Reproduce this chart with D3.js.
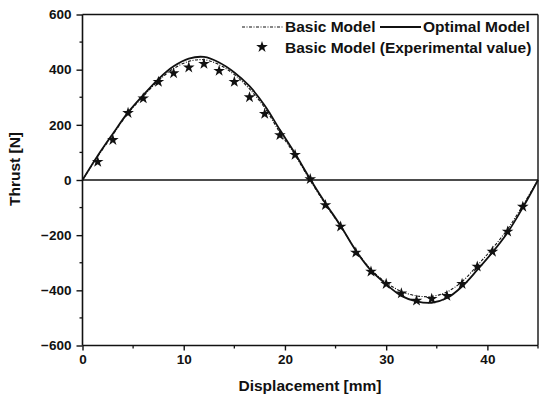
<!DOCTYPE html>
<html>
<head>
<meta charset="utf-8"/>
<script src="https://d3js.org/d3.v7.min.js"></script>
<title>Thrust vs Displacement</title>
<style type="text/css">
  body { margin: 0; background-color: white; }
  text { font-family: "Liberation Sans", Arial, sans-serif; font-weight: bold; fill: #111; }
</style>
</head>
<body>
<div id="chart"></div>
<script type="text/javascript">

// displacement [mm] sample points for the two model curves
var disp = [0, 1.5, 3, 4.5, 6, 7.5, 9, 10.5, 12, 13.5, 15, 16.5, 18, 19.5, 21, 22.5,
            24, 25.5, 27, 28.5, 30, 31.5, 33, 34.5, 36, 37.5, 39, 40.5, 42, 43.5, 45];
var basicModel = [0, 85, 164, 242, 303, 360, 404, 430, 436, 418, 382, 330, 262, 172, 90, -2,
                  -88, -168, -254, -324, -372, -404, -420, -422, -406, -368, -310, -248, -178, -92, 0];
var optimalModel = [0, 88, 168, 245, 308, 366, 412, 440, 446, 426, 390, 340, 270, 182, 96, 3,
                    -84, -166, -256, -328, -378, -420, -440, -445, -428, -386, -326, -262, -190, -100, 0];

// experimental values (stars)
var expDisp = [1.5, 3, 4.5, 6, 7.5, 9, 10.5, 12, 13.5, 15, 16.5, 18, 19.5, 21, 22.5,
               24, 25.5, 27, 28.5, 30, 31.5, 33, 34.5, 36, 37.5, 39, 40.5, 42, 43.5];
var expThrust = [66, 145, 243, 296, 356, 387, 408, 421, 396, 356, 300, 240, 163, 91, 3,
                 -91, -169, -263, -332, -377, -411, -437, -431, -420, -377, -314, -260, -187, -97];

var xTicks = [0, 10, 20, 30, 40];
var xMinor = [5, 15, 25, 35, 45];
var yTicks = [-600, -400, -200, 0, 200, 400, 600];
var yMinor = [-500, -300, -100, 100, 300, 500];
var legendLabels = ["Basic Model", "Optimal Model", "Basic Model (Experimental value)"];

var width = 539, height = 399;
var svg = d3.select("#chart").append("svg")
    .attr("width", width)
    .attr("height", height);

var x = d3.scaleLinear().domain([0, 45]).range([82.5, 538]);
var y = d3.scaleLinear().domain([-600, 600]).range([345.5, 14.5]);

// frame (top + right)
svg.append("line").attr("x1", x(0)).attr("x2", x(45)).attr("y1", y(600)).attr("y2", y(600))
   .attr("stroke", "#111").attr("stroke-width", 1.6);
svg.append("line").attr("x1", x(45)).attr("x2", x(45)).attr("y1", y(600)).attr("y2", y(-600))
   .attr("stroke", "#111").attr("stroke-width", 1.4);

// axes
var xAxis = svg.append("g")
    .attr("transform", "translate(0," + y(-600) + ")")
    .call(d3.axisBottom(x).tickValues(xTicks).tickSize(5).tickPadding(4).tickFormat(d3.format("d")));
xAxis.append("g").selectAll("line").data(xMinor).enter().append("line")
    .attr("x1", function(d){ return x(d); }).attr("x2", function(d){ return x(d); })
    .attr("y1", 0).attr("y2", 3).attr("stroke", "#111").attr("stroke-width", 1.3);

var yAxis = svg.append("g")
    .attr("transform", "translate(" + x(0) + ",0)")
    .call(d3.axisLeft(y).tickValues(yTicks).tickSize(6).tickPadding(5).tickFormat(d3.format("d")));
yAxis.append("g").selectAll("line").data(yMinor).enter().append("line")
    .attr("y1", function(d){ return y(d); }).attr("y2", function(d){ return y(d); })
    .attr("x1", 0).attr("x2", -3).attr("stroke", "#111").attr("stroke-width", 1.3);

[xAxis, yAxis].forEach(function(a){
  a.select(".domain").attr("stroke", "#111").attr("stroke-width", 1.6);
  a.selectAll(".tick line").attr("stroke", "#111").attr("stroke-width", 1.4);
  a.selectAll(".tick text").style("font-size", "13.5px").style("font-weight", "bold")
    .style("font-family", "'Liberation Sans', Arial, sans-serif").attr("fill", "#111");
});
xAxis.select(".domain").attr("d", "M" + x(0) + ",0H" + x(45));
yAxis.select(".domain").attr("d", "M0," + y(-600) + "V" + y(600));

// zero line
svg.append("line").attr("x1", x(0)).attr("x2", x(45)).attr("y1", y(0)).attr("y2", y(0))
   .attr("stroke", "#111").attr("stroke-width", 1.6);

// axis titles
svg.append("text")
   .attr("x", 310).attr("y", 391)
   .attr("text-anchor", "middle")
   .style("font-size", "15.5px")
   .text("Displacement [mm]");
svg.append("text")
   .attr("transform", "translate(20,169) rotate(-90)")
   .attr("text-anchor", "middle")
   .style("font-size", "15.5px")
   .text("Thrust [N]");

// curves
var line = d3.line()
    .x(function(d){ return x(d[0]); })
    .y(function(d){ return y(d[1]); })
    .curve(d3.curveCatmullRom.alpha(0.5));

svg.append("path")
   .datum(disp.map(function(d, i){ return [d, basicModel[i]]; }))
   .attr("d", line)
   .attr("fill", "none").attr("stroke", "#111").attr("stroke-width", 1.1)
   .attr("stroke-dasharray", "3,1.5,1,1.5");

svg.append("path")
   .datum(disp.map(function(d, i){ return [d, optimalModel[i]]; }))
   .attr("d", line)
   .attr("fill", "none").attr("stroke", "#111").attr("stroke-width", 1.8);

var star = d3.symbol().type(d3.symbolStar).size(42);
svg.append("g").selectAll("path")
   .data(expDisp.map(function(d, i){ return [d, expThrust[i]]; }))
   .enter().append("path")
   .attr("d", star)
   .attr("transform", function(d){ return "translate(" + x(d[0]) + "," + y(d[1]) + ")"; })
   .attr("fill", "#111");

// legend
var lg = svg.append("g");
lg.append("line").attr("x1", 242).attr("x2", 283).attr("y1", 27).attr("y2", 27)
  .attr("stroke", "#111").attr("stroke-width", 1.1).attr("stroke-dasharray", "3,1.5,1,1.5");
lg.append("text").attr("x", 285).attr("y", 32).style("font-size", "15.5px").text(legendLabels[0]);
lg.append("line").attr("x1", 380).attr("x2", 421).attr("y1", 27).attr("y2", 27)
  .attr("stroke", "#111").attr("stroke-width", 1.8);
lg.append("text").attr("x", 423).attr("y", 32).style("font-size", "15.5px").text(legendLabels[1]);
lg.append("path").attr("d", star).attr("transform", "translate(262,47)").attr("fill", "#111");
lg.append("text").attr("x", 285).attr("y", 53).style("font-size", "15.5px").text(legendLabels[2]);

</script>
</body>
</html>
